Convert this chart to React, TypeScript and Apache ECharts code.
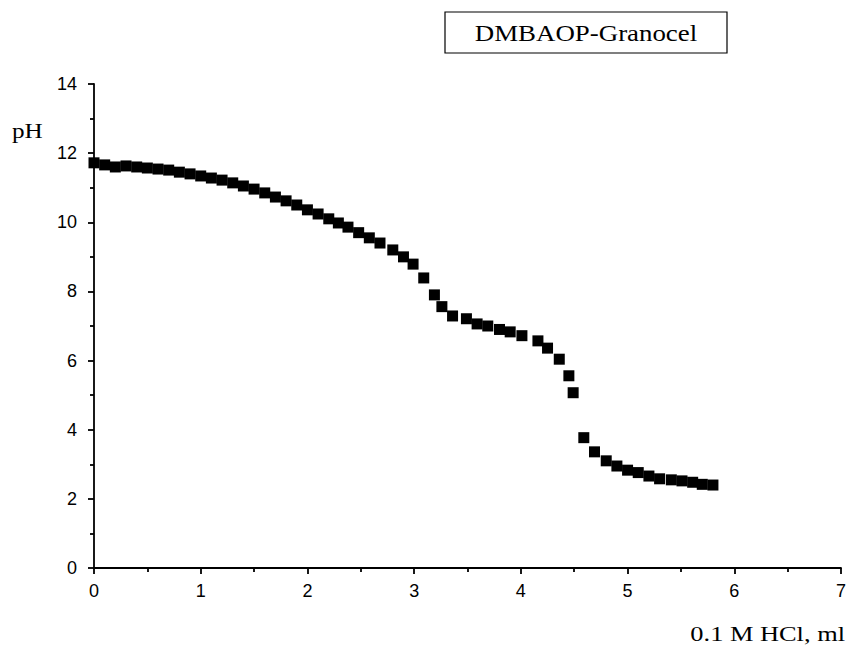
import React, { useEffect, useRef } from "react";
import * as echarts from "echarts";

const titleText = "DMBAOP-Granocel";
const xAxisTitle = "0.1 M HCl, ml";
const yAxisTitle = "pH";

const hclMl = [
  0, 0.1, 0.2, 0.3, 0.4, 0.5, 0.6, 0.7, 0.8, 0.9, 1.0, 1.1, 1.2, 1.3, 1.4, 1.5,
  1.6, 1.7, 1.8, 1.9, 2.0, 2.1, 2.2, 2.29, 2.38, 2.48, 2.58, 2.68, 2.8, 2.9,
  2.99, 3.09, 3.19, 3.26, 3.36, 3.49, 3.59, 3.69, 3.8, 3.9, 4.01, 4.16, 4.25,
  4.36, 4.45, 4.49, 4.59, 4.69, 4.8, 4.9, 5.0, 5.1, 5.2, 5.3, 5.41, 5.51, 5.61,
  5.7, 5.8,
];

const phValues = [
  11.72, 11.66, 11.6, 11.63, 11.6, 11.57, 11.54, 11.51, 11.45, 11.4, 11.34,
  11.28, 11.22, 11.14, 11.05, 10.96, 10.85, 10.73, 10.62, 10.5, 10.36, 10.24,
  10.1, 9.98, 9.86, 9.7, 9.55, 9.4, 9.2, 9.0, 8.79, 8.39, 7.9, 7.56, 7.29,
  7.21, 7.06, 7.0, 6.9, 6.83, 6.72, 6.57, 6.36, 6.04, 5.56, 5.07, 3.77, 3.36,
  3.1, 2.95, 2.83, 2.76, 2.66, 2.58, 2.55, 2.52, 2.48, 2.42, 2.4,
];

export default function App() {
  const ref = useRef<HTMLDivElement>(null);

  useEffect(() => {
    if (!ref.current) return;
    const chart = echarts.init(ref.current, null, { renderer: "svg" });
    const data = hclMl.map((x, i) => [x, phValues[i]]);
    const axisCommon = {
      axisLine: { show: true, lineStyle: { color: "#000", width: 1.8 } },
      axisTick: { show: true, inside: false, length: 6, lineStyle: { color: "#000", width: 1.8 } },
      minorTick: { show: true, splitNumber: 2, length: 4, lineStyle: { color: "#000", width: 1.8 } },
      splitLine: { show: false },
      minorSplitLine: { show: false },
      axisLabel: {
        color: "#000",
        fontFamily: "Liberation Sans, Arial, sans-serif",
        fontSize: 18,
      },
    };
    chart.setOption({
      animation: false,
      backgroundColor: "#fff",
      grid: { left: 94, right: 6, top: 84, bottom: 77, containLabel: false },
      xAxis: {
        type: "value",
        min: 0,
        max: 7,
        interval: 1,
        ...axisCommon,
        axisLabel: { ...axisCommon.axisLabel, margin: 14 },
      },
      yAxis: {
        type: "value",
        min: 0,
        max: 14,
        interval: 2,
        ...axisCommon,
        axisLabel: { ...axisCommon.axisLabel, margin: 17 },
      },
      series: [
        {
          type: "scatter",
          data,
          symbol: "rect",
          symbolSize: 11,
          itemStyle: { color: "#000", opacity: 1 },
        },
      ],
      graphic: [
        {
          type: "rect",
          shape: { x: 445, y: 12, width: 282, height: 41 },
          style: { fill: "#fff", stroke: "#000", lineWidth: 1.2 },
        },
        {
          type: "text",
          x: 586,
          y: 33,
          scaleX: 1.12,
          style: {
            text: titleText,
            fill: "#000",
            font: "24px 'Liberation Serif', 'Times New Roman', serif",
            textAlign: "center",
            textVerticalAlign: "middle",
          },
        },
        {
          type: "text",
          x: 12,
          y: 131,
          scaleX: 1.2,
          style: {
            text: yAxisTitle,
            fill: "#000",
            font: "21px 'Liberation Serif', 'Times New Roman', serif",
            textAlign: "left",
            textVerticalAlign: "middle",
          },
        },
        {
          type: "text",
          x: 845,
          y: 633,
          scaleX: 1.2,
          style: {
            text: xAxisTitle,
            fill: "#000",
            font: "22px 'Liberation Serif', 'Times New Roman', serif",
            textAlign: "right",
            textVerticalAlign: "middle",
          },
        },
      ],
    });
    return () => chart.dispose();
  }, []);

  return (
    <div
      ref={ref}
      style={{ position: "fixed", left: 0, top: 0, width: 849, height: 645 }}
    />
  );
}
